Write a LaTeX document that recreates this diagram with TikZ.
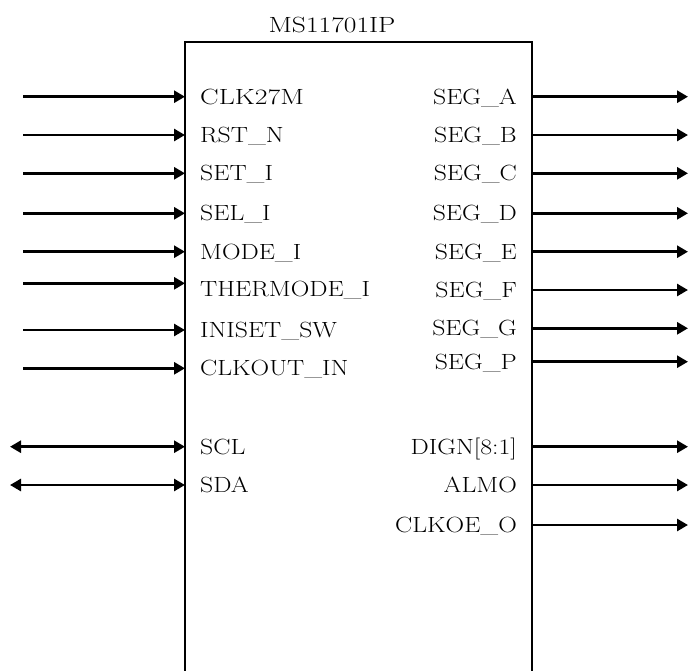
\documentclass[tikz,border=0pt]{standalone}
\usetikzlibrary{arrows.meta}
\newcommand\xw[1]{\scalebox{1.17}[1]{#1}}
\begin{document}
\begin{tikzpicture}[x=1pt,y=-1pt,
  lbl/.style={font=\fontsize{22}{26}\selectfont, inner sep=0pt},
  inlbl/.style={lbl, anchor=base west},
  outlbl/.style={lbl, anchor=base east},
  tip/.tip={Triangle[length=11pt,width=12pt]},
  sig/.style={line width=2.7pt, -tip},
  bidi/.style={line width=2.7pt, tip-tip},
  boxline/.style={line width=2.2pt}]
\useasboundingbox (0,0) rectangle (688,670);
% block outline (open at the bottom)
\coordinate (bl) at (185,672);
\coordinate (tl) at (185,42);
\coordinate (tr) at (532,42);
\coordinate (br) at (532,672);
\draw[boxline] (bl) -- (tl) -- (tr) -- (br);
\node[lbl, anchor=base] (title) at (332,32) {\scalebox{1.25}[1]{MS11701IP}};
% inputs
\foreach \nm/\y/\ty/\txt in {
  clk/96.7/96.7/{\scalebox{1.08}[1]{CLK27M}},
  rst/135/135/RST\_N,
  set/173.3/173.3/SET\_I,
  sel/213.3/213.3/SEL\_I,
  mode/251.7/251.7/MODE\_I,
  therm/283.3/289/THERMODE\_I,
  ini/330/330.5/INISET\_SW,
  cko/368.3/368.5/CLKOUT\_IN}{
  \coordinate (\nm-src) at (23,\y);
  \coordinate (\nm-pin) at (185,\y);
  \node[inlbl] (\nm-lbl) at (200,\ty+7.3) {\xw{\txt}};
  \draw[sig] (\nm-src) -- (\nm-pin);
}
% bidirectional
\foreach \nm/\y/\txt in {scl/446.7/SCL, sda/485/SDA}{
  \coordinate (\nm-src) at (10,\y);
  \coordinate (\nm-pin) at (185,\y);
  \node[inlbl] (\nm-lbl) at (200,\y+7.3) {\xw{\txt}};
  \draw[bidi] (\nm-src) -- (\nm-pin);
}
% outputs
\foreach \nm/\y/\txt in {
  sega/96.7/SEG\_A,
  segb/135/SEG\_B,
  segc/173.3/SEG\_C,
  segd/213.3/SEG\_D,
  sege/251.7/SEG\_E,
  segf/290/SEG\_F,
  segg/328.3/SEG\_G,
  segp/361.7/SEG\_P,
  dign/446.7/{DIGN[8:1]},
  almo/485/ALMO,
  clkoe/525/CLKOE\_O}{
  \coordinate (\nm-pin) at (532,\y);
  \coordinate (\nm-dst) at (688,\y);
  \node[outlbl] (\nm-lbl) at (517,\y+7.3) {\xw{\txt}};
  \draw[sig] (\nm-pin) -- (\nm-dst);
}
\end{tikzpicture}
\end{document}
